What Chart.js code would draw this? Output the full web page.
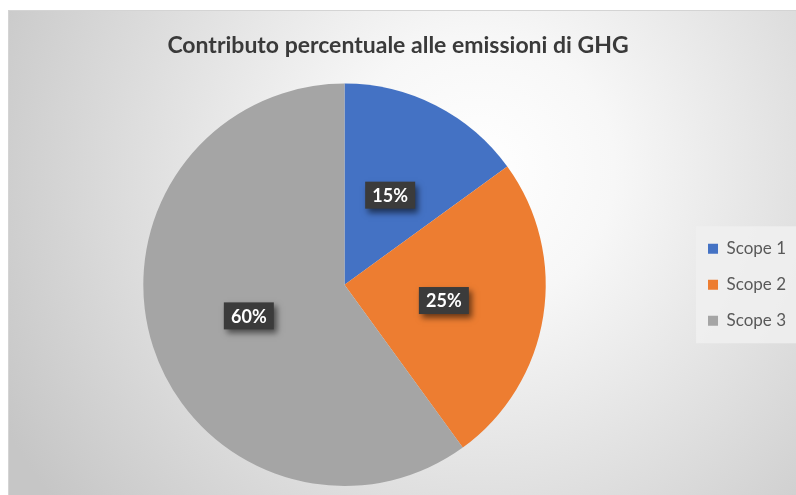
<!DOCTYPE html>
<html>
<head>
<meta charset="utf-8">
<script src="https://cdn.jsdelivr.net/npm/chart.js@4.4.1/dist/chart.umd.min.js"></script>
<style>
  html, body { margin: 0; padding: 0; background: #ffffff; }
  canvas { display: block; }
</style>
</head>
<body>
<canvas id="myChart" width="796" height="495"></canvas>
<script>
const categories = ["Scope 1", "Scope 2", "Scope 3"];
const shares = [15, 25, 60];
const sliceColors = ["#4472C4", "#ED7D31", "#A5A5A5"];
const chartTitle = "Contributo percentuale alle emissioni di GHG";

// background frame with the radial grey gradient + legend panel
const backdrop = {
  id: "backdrop",
  beforeDraw(chart) {
    const c = chart.ctx;
    c.save();
    c.fillStyle = "#ffffff";
    c.fillRect(0, 0, chart.width, chart.height);
    const g = c.createRadialGradient(480, 170, 0, 480, 170, 540);
    g.addColorStop(0, "#ffffff");
    g.addColorStop(0.25, "#f7f7f7");
    g.addColorStop(1, "#c6c6c6");
    c.fillStyle = g;
    c.fillRect(8, 10, chart.width - 8, chart.height - 10);
    c.strokeStyle = "#d4d4d4";
    c.lineWidth = 1;
    c.strokeRect(8.5, 10.5, chart.width, chart.height);

    const lg = chart.legend;
    if (lg && lg.legendHitBoxes && lg.legendHitBoxes.length) {
      const hb = lg.legendHitBoxes;
      const top = hb[0].top - 14;
      const bottom = hb[hb.length - 1].top + hb[hb.length - 1].height + 14;
      c.fillStyle = "rgba(240,240,240,0.85)";
      c.fillRect(hb[0].left - 12, top, chart.width - hb[0].left + 12, bottom - top);
    }
    c.restore();
  }
};

// dark boxed percentage labels
const sliceLabels = {
  id: "sliceLabels",
  afterDatasetsDraw(chart) {
    const c = chart.ctx;
    const meta = chart.getDatasetMeta(0);
    c.save();
    c.font = "bold 18px Lato";
    c.textAlign = "center";
    c.textBaseline = "middle";
    meta.data.forEach((arc, i) => {
      const p = arc.tooltipPosition();
      const txt = shares[i] + "%";
      const w = 50, h = 27;
      c.save();
      c.shadowColor = "rgba(0,0,0,0.55)";
      c.shadowBlur = 6;
      c.shadowOffsetX = 3;
      c.shadowOffsetY = 4;
      c.fillStyle = "#3b3b3b";
      c.fillRect(p.x - w / 2, p.y - h / 2, w, h);
      c.restore();
      c.fillStyle = "#ffffff";
      c.fillText(txt, p.x, p.y + 1);
    });
    c.restore();
  }
};

var ctx = document.getElementById("myChart");
var myChart = new Chart(ctx, {
  type: "pie",
  data: {
    labels: categories,
    datasets: [
      {
        data: shares,
        backgroundColor: sliceColors,
        borderWidth: 0,
      },
    ],
  },
  options: {
    responsive: false,
    animation: false,
    layout: { padding: { top: 30, left: 0, right: 0, bottom: 9 } },
    plugins: {
      title: {
        display: true,
        text: chartTitle,
        color: "#3a3a3a",
        font: { family: "Lato", size: 23, weight: "bold" },
        padding: { top: 2, bottom: 24 },
      },
      legend: {
        position: "right",
        fullSize: false,
        labels: {
          boxWidth: 10,
          boxHeight: 10,
          padding: 19,
          color: "#595959",
          font: { family: "Lato", size: 17 },
        },
      },
      tooltip: { enabled: false },
    },
  },
  plugins: [backdrop, sliceLabels],
});
</script>
</body>
</html>
